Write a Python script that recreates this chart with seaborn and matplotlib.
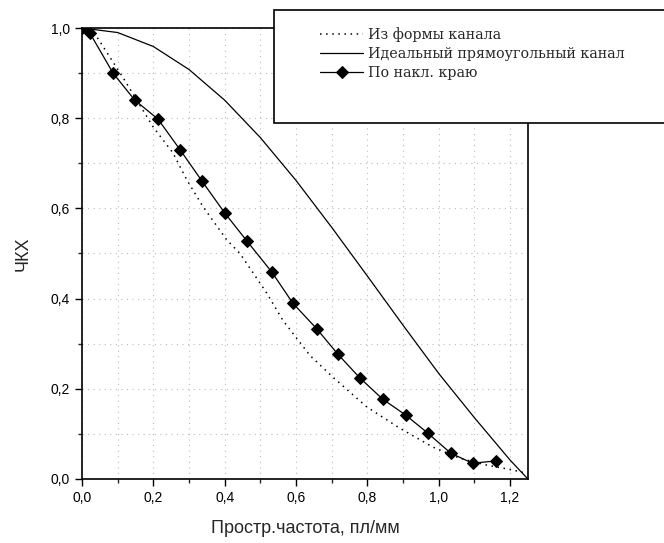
import pandas as pd
import matplotlib
matplotlib.use("Agg")
import matplotlib.pyplot as plt
from matplotlib.patches import Rectangle
from matplotlib.ticker import MultipleLocator, FuncFormatter
import seaborn as sns

# Из формы канала (dotted)
shape_x = [0.0, 0.042, 0.115, 0.2, 0.255, 0.294, 0.34, 0.406, 0.443, 0.518, 0.563,
           0.639, 0.703, 0.798, 0.89, 0.983, 1.059, 1.134, 1.207, 1.25]
shape_y = [1.0, 0.98, 0.89, 0.78, 0.723, 0.663, 0.603, 0.53, 0.50, 0.412, 0.352,
           0.274, 0.226, 0.16, 0.113, 0.071, 0.046, 0.031, 0.02, 0.012]

# Идеальный прямоугольный канал (solid)
ideal_x = [0.0, 0.1, 0.2, 0.3, 0.4, 0.5, 0.6, 0.7, 0.8, 0.9, 1.0, 1.1, 1.2, 1.25]
ideal_y = [1.0, 0.99, 0.959, 0.908, 0.84, 0.757, 0.662, 0.558, 0.45, 0.341, 0.234,
           0.136, 0.042, 0.0]

# По накл. краю (markers)
edge_x = [0.0, 0.022, 0.087, 0.148, 0.213, 0.275, 0.336, 0.40, 0.462, 0.532, 0.591,
          0.658, 0.717, 0.779, 0.843, 0.907, 0.969, 1.034, 1.095, 1.16]
edge_y = [1.0, 0.989, 0.90, 0.84, 0.798, 0.73, 0.661, 0.59, 0.528, 0.459, 0.39,
          0.333, 0.277, 0.224, 0.177, 0.142, 0.102, 0.057, 0.035, 0.04]

labels = ["Из формы канала", "Идеальный прямоугольный канал", "По накл. краю"]

sns.set_style("ticks")
plt.rcParams["font.family"] = ["Liberation Sans", "DejaVu Sans"]

fig = plt.figure(figsize=(6.64, 5.43), dpi=100)
ax = fig.add_axes([0.1235, 0.1179, 0.795 - 0.1235, 0.9484 - 0.1179])

sns.lineplot(x=shape_x, y=shape_y, ax=ax, color="black", lw=1.1,
             linestyle=(0, (1, 3)), sort=False, estimator=None, label=labels[0])
sns.lineplot(x=ideal_x, y=ideal_y, ax=ax, color="black", lw=0.9,
             sort=False, estimator=None, label=labels[1])
sns.lineplot(x=edge_x, y=edge_y, ax=ax, color="black", lw=0.9, marker="D",
             markersize=6.5, markeredgecolor="black", sort=False, estimator=None,
             label=labels[2])

ax.set_xlim(0, 1.25)
ax.set_ylim(0, 1.0)
ax.xaxis.set_major_locator(MultipleLocator(0.2))
ax.xaxis.set_minor_locator(MultipleLocator(0.1))
ax.yaxis.set_major_locator(MultipleLocator(0.2))
ax.yaxis.set_minor_locator(MultipleLocator(0.1))
comma = FuncFormatter(lambda v, p: f"{v:.1f}".replace(".", ","))
ax.xaxis.set_major_formatter(comma)
ax.yaxis.set_major_formatter(comma)
ax.tick_params(which="major", direction="out", length=5, width=1, labelsize=10,
               colors="black")
ax.tick_params(which="minor", direction="out", length=3, width=1)
ax.grid(which="both", color="#bbbbbb", linestyle=(0, (1, 4)), lw=0.8)
for s in ax.spines.values():
    s.set_color("black")
    s.set_linewidth(1.2)

ax.set_xlabel("Простр.частота, пл/мм", fontsize=13, labelpad=11)
ax.set_ylabel("ЧКХ", fontsize=13, labelpad=14)

# legend box, partly outside the figure like the scan
handles, _ = ax.get_legend_handles_labels()
ax.get_legend().remove()
fig.patches.append(Rectangle((274 / 664, 1 - 123 / 543), 0.7, 113 / 543,
                             transform=fig.transFigure, facecolor="white",
                             edgecolor="black", lw=1.2, zorder=5))
leg = fig.legend(handles, labels, loc="upper left", frameon=False,
                 bbox_to_anchor=(313 / 664, 1 - 19.5 / 543), borderpad=0,
                 handlelength=3.0, handletextpad=0.35, labelspacing=0.38,
                 prop={"family": "DejaVu Serif", "size": 10.3})
leg.set_zorder(6)

fig.savefig("out.png", dpi=100)
